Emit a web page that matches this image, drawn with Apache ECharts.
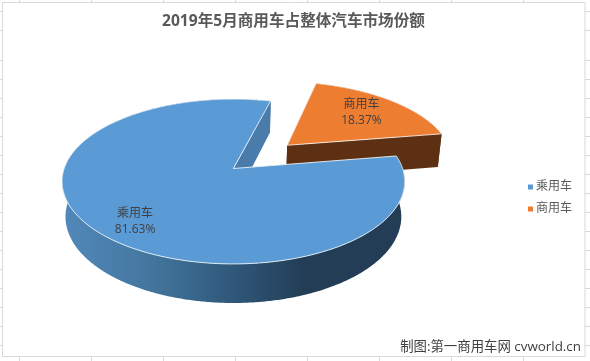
<!DOCTYPE html>
<html>
<head>
<meta charset="utf-8">
<style>
  html, body { margin: 0; padding: 0; background: #fff; }
  #chart { width: 590px; height: 361px; }
</style>
</head>
<body>
<div id="chart"></div>
<script src="https://cdn.jsdelivr.net/npm/echarts@6/dist/echarts.min.js"></script>
<script>
const categories = ['乘用车', '商用车'];
const shares = [81.63, 18.37];
const shareLabels = ['81.63%', '18.37%'];

const FONT = '"Open Sans","Noto Sans CJK SC",sans-serif';

// Excel 风格的三维饼图透视参数
const cx = 233.4, cy = 168.5;
const radiusX = 169.2, radiusY = 80.4, persp = 0.1575;
const depth = 35.6, depthPersp = 0.02;
const firstAngle = 80.8;
const explode = [0, 0.45];
const labelAt = [[-0.528, -0.582], [0.853, 0.806]];

const topColors = ['#5b9bd5', '#ed7d31'];
const edgeColors = ['#4a7cab', '#5d3013'];
const rimColors = [
  new echarts.graphic.LinearGradient(62, 0, 305, 0, [
    { offset: 0, color: '#5289bb' },
    { offset: 0.35, color: '#44779f' },
    { offset: 0.7, color: '#30587a' },
    { offset: 1, color: '#223d55' }
  ], true),
  '#5d3013'
];

// u 向右, v 向后, 单位圆坐标投影到屏幕
function project(u, v, bottom) {
  const w = 1 + persp * v + (bottom ? depthPersp : 0);
  return [
    cx + radiusX * u / w,
    cy + (-radiusY * v + (bottom ? depth : 0)) / w
  ];
}

function sliceStart(index) {
  const total = shares.reduce((a, b) => a + b, 0);
  let sum = 0;
  for (let i = 0; i < index; i++) sum += shares[i];
  return firstAngle + sum / total * 360;
}

function renderSlice(index) {
  return function (params, api) {
    const total = shares.reduce((a, b) => a + b, 0);
    const start = sliceStart(index);
    const sweep = api.value(0) / total * 360;
    const mid = (start + sweep / 2) * Math.PI / 180;
    const ox = Math.sin(mid) * explode[index];
    const oy = Math.cos(mid) * explode[index];

    const rim = function (bottom) {
      const pts = [];
      const steps = Math.ceil(sweep * 2);
      for (let i = 0; i <= steps; i++) {
        const a = (start + sweep * i / steps) * Math.PI / 180;
        pts.push(project(ox + Math.sin(a), oy + Math.cos(a), bottom));
      }
      return pts;
    };
    const topRim = rim(false);
    const bottomRim = rim(true);
    const apexTop = project(ox, oy, false);
    const apexBottom = project(ox, oy, true);
    const last = topRim.length - 1;

    const labelPos = project(labelAt[index][0], labelAt[index][1], false);

    return {
      type: 'group',
      children: [
        {
          type: 'polygon',
          shape: { points: topRim.concat(bottomRim.slice().reverse()) },
          style: { fill: rimColors[index] }
        },
        {
          type: 'polygon',
          shape: { points: [apexTop, topRim[0], bottomRim[0], apexBottom] },
          style: { fill: edgeColors[index] }
        },
        {
          type: 'polygon',
          shape: { points: [apexTop, topRim[last], bottomRim[last], apexBottom] },
          style: { fill: edgeColors[index] }
        },
        {
          type: 'polygon',
          shape: { points: [apexTop].concat(topRim) },
          style: { fill: topColors[index], stroke: '#ffffff', lineWidth: 0.8 }
        },
        {
          type: 'text',
          x: labelPos[0],
          y: labelPos[1] + 2,
          style: {
            text: categories[index] + '\n' + shareLabels[index],
            fill: '#404040',
            font: '12px ' + FONT,
            lineHeight: 16,
            align: 'center',
            verticalAlign: 'middle'
          }
        }
      ]
    };
  };
}

// Excel 表格网格线露出的短线
const stubXs = [19.5, 91.5, 163.5, 235.5, 307.5, 379.5, 451.5, 523.5];
const stubYs = [11.5, 30.5, 60.5, 79.5, 98.5, 117.5, 136.5, 155.5, 174.5, 193.5, 212.5, 231.5, 250.5, 269.5, 288.5, 307.5, 326.5, 345.5];

const stubs = [];
stubXs.forEach(x => {
  stubs.push({ type: 'line', silent: true, shape: { x1: x, y1: 0, x2: x, y2: 3 }, style: { stroke: '#d9d9d9', lineWidth: 1 } });
  stubs.push({ type: 'line', silent: true, shape: { x1: x, y1: 357, x2: x, y2: 361 }, style: { stroke: '#d9d9d9', lineWidth: 1 } });
});
stubYs.forEach(y => {
  stubs.push({ type: 'line', silent: true, shape: { x1: 0, y1: y, x2: 3, y2: y }, style: { stroke: '#d9d9d9', lineWidth: 1 } });
  stubs.push({ type: 'line', silent: true, shape: { x1: 585, y1: y, x2: 590, y2: y }, style: { stroke: '#d9d9d9', lineWidth: 1 } });
});

const chart = echarts.init(document.getElementById('chart'));

chart.setOption({
  backgroundColor: '#ffffff',
  animation: false,
  title: {
    text: '2019年5月商用车占整体汽车市场份额',
    left: 157,
    top: 9,
    textStyle: { color: '#595959', fontSize: 15.6, fontWeight: 'bold', fontFamily: FONT }
  },
  legend: {
    data: categories,
    orient: 'vertical',
    left: 523,
    top: 176,
    itemWidth: 5,
    itemHeight: 5,
    itemGap: 10,
    icon: 'rect',
    textStyle: { color: '#595959', fontSize: 12, fontFamily: FONT, padding: [0, 0, 0, -2] }
  },
  graphic: [
    {
      type: 'rect',
      silent: true,
      shape: { x: 2.5, y: 2.5, width: 582.5, height: 354 },
      style: { fill: 'none', stroke: '#d9d9d9', lineWidth: 1 }
    },
    {
      type: 'text',
      silent: true,
      right: 9,
      top: 340,
      style: { text: '制图:第一商用车网 cvworld.cn', fill: '#404040', font: '13.4px ' + FONT }
    }
  ].concat(stubs),
  series: [
    {
      name: categories[1],
      type: 'custom',
      coordinateSystem: 'none',
      silent: true,
      itemStyle: { color: topColors[1] },
      renderItem: renderSlice(1),
      data: [shares[1]]
    },
    {
      name: categories[0],
      type: 'custom',
      coordinateSystem: 'none',
      silent: true,
      itemStyle: { color: topColors[0] },
      renderItem: renderSlice(0),
      data: [shares[0]]
    }
  ]
});
</script>
</body>
</html>
